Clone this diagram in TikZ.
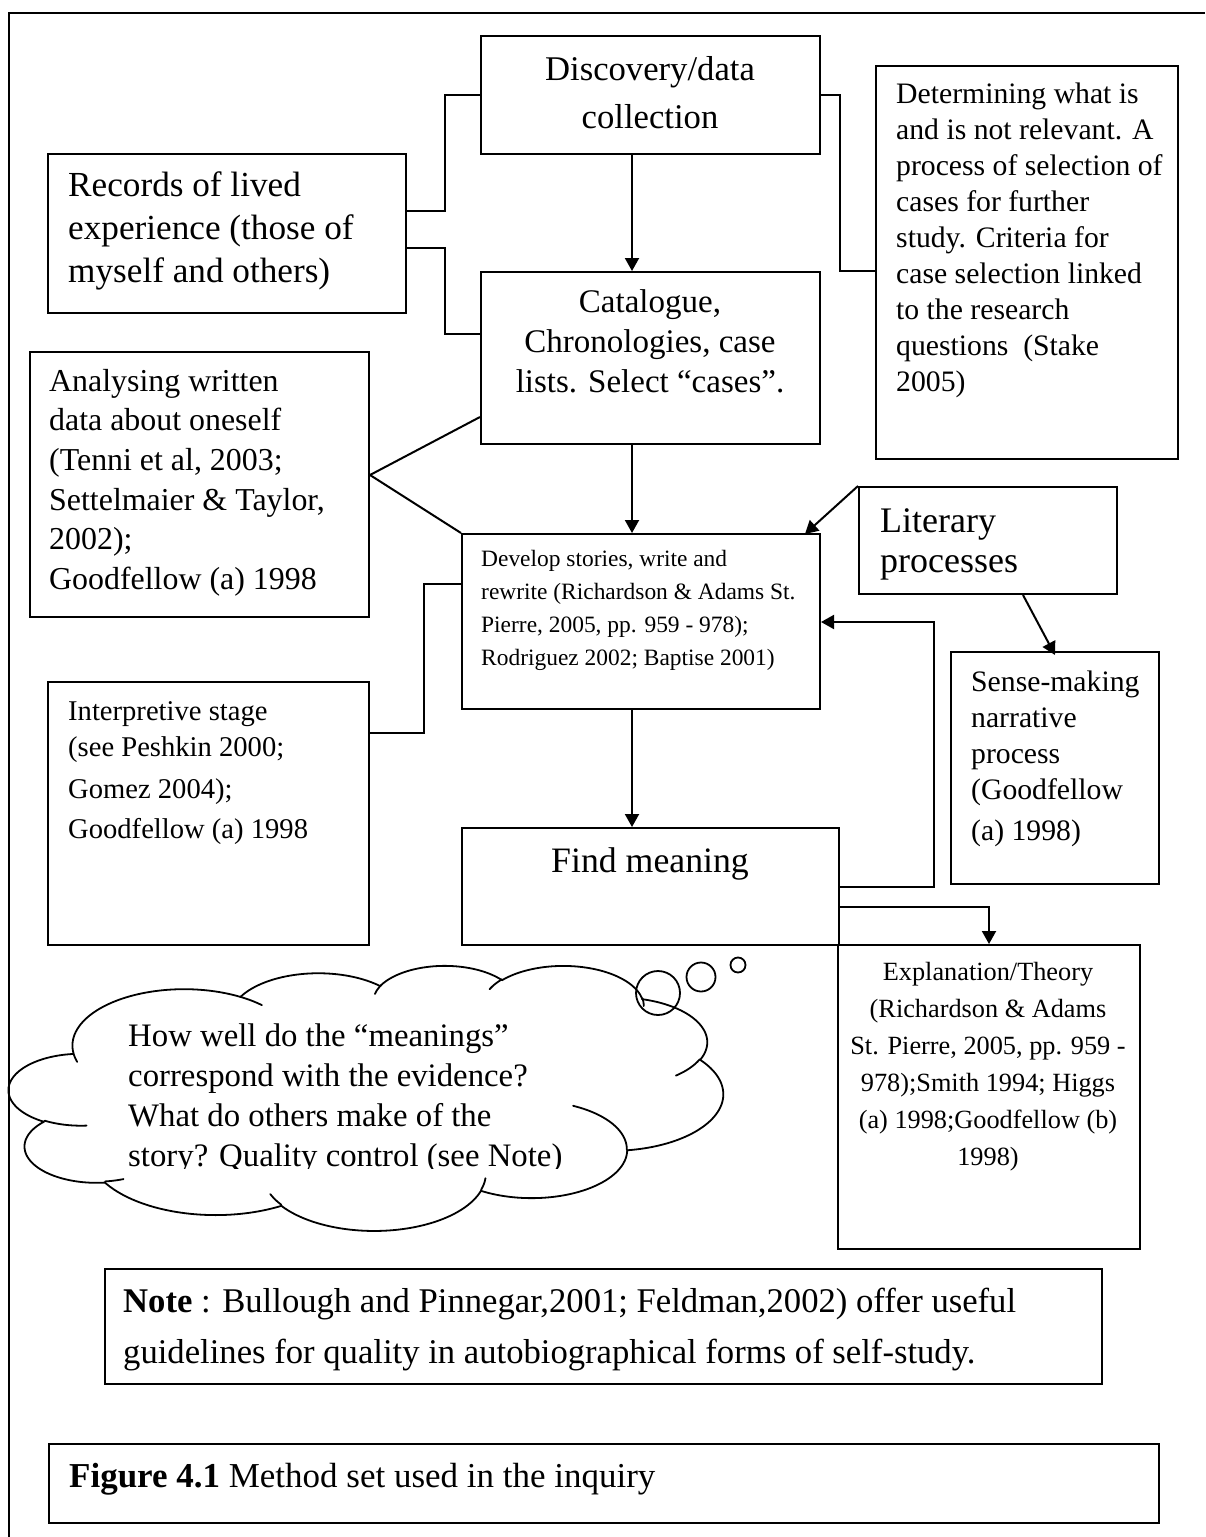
\documentclass[tikz,border=0pt]{standalone}
\usepackage{fontspec}
\setmainfont{Liberation Serif}
\usetikzlibrary{arrows.meta}

% font size (widened to the book face's measure) and baselineskip, in points
\newcommand\fsz[2]{\fontsize{\fpeval{1.1*#1}pt}{#2pt}\selectfont}

% rectangle node from its corners: name, left, top, right, bottom
\newcommand\boxnode[5]{%
  \node[box,minimum width={(#4-#2)*1pt},minimum height={(#5-#3)*1pt}] (#1) at (#2,#3) {};}

\makeatletter
% Office-style cloud outline: elliptical arcs given by their radii and by
% start and sweep angles taken in the visual sense, chained from the current point.
\newcommand\cldmove[2]{\def\cld@x{#1}\def\cld@y{#2}}
\newcommand\cldarc[4]{%
  \pgfmathsetmacro\cld@ta{atan2((#1)*sin(#3),(#2)*cos(#3))}%
  \pgfmathsetmacro\cld@e{(#3)+(#4)}%
  \pgfmathsetmacro\cld@tr{atan2((#1)*sin(\cld@e),(#2)*cos(\cld@e))}%
  \pgfmathsetmacro\cld@tb{\cld@tr+360*round((\cld@ta+(#4)-\cld@tr)/360)}%
  \pgfmathsetmacro\cld@cx{\cld@x-(#1)*cos(\cld@ta)}%
  \pgfmathsetmacro\cld@cy{\cld@y-(#2)*sin(\cld@ta)}%
  \draw[cloudline] plot[variable=\cldt,domain=\cld@ta:\cld@tb,samples=48,smooth]
    ({\cld@cx+(#1)*cos(\cldt)},{\cld@cy+(#2)*sin(\cldt)});
  \pgfmathsetmacro\cld@x{\cld@cx+(#1)*cos(\cld@tb)}%
  \pgfmathsetmacro\cld@y{\cld@cy+(#2)*sin(\cld@tb)}%
}
\makeatother

\begin{document}
\begin{tikzpicture}[x=1pt,y=-1pt,
  box/.style={draw,line width=2pt,inner sep=0pt,anchor=north west},
  txt/.style={inner sep=0pt,anchor=north west,align=left},
  ctxt/.style={inner sep=0pt,anchor=north,align=center},
  link/.style={line width=2pt},
  arr/.style={line width=2pt,-{Triangle[length=13pt,width=14pt]}},
  cloudline/.style={line width=1.8pt,line join=round,line cap=round},
]
\useasboundingbox[fill=white] (0,0) rectangle (1205,1537);

% page frame
\draw[line width=2pt] (1205,13) -- (9,13) -- (9,1537);

% boxes
\boxnode{disc}{480}{35}{819}{153}
\boxnode{rec}{47}{153}{405}{312}
\boxnode{det}{875}{65}{1177}{458}
\boxnode{cat}{480}{271}{819}{443}
\boxnode{ana}{29}{351}{368}{616}
\boxnode{dev}{461}{533}{819}{708}
\boxnode{lit}{858}{486}{1116}{593}
\boxnode{sense}{950}{651}{1158}{883}
\boxnode{interp}{47}{681}{368}{944}
\boxnode{find}{461}{827}{838}{944}
\boxnode{expl}{837}{944}{1139}{1248}
\boxnode{note}{104}{1268}{1101}{1383}
\boxnode{fig}{48}{1443}{1158}{1522}

% texts
\node[ctxt,font=\fsz{31.5}{48}] (disc-t) at (650,46.4) {\strut Discovery/data\\collection};
\node[txt,font=\fsz{32}{43}] (rec-t) at (68,165.9) {\strut Records of lived\\experience (those of\\myself and others)};
\node[txt,font=\fsz{27}{36}] (det-t) at (896,77.8) {\strut Determining what is\\and is not relevant. A\\process of selection of\\cases for further\\study. Criteria for\\case selection linked\\to the research\\questions~ (Stake\\2005)};
\node[ctxt,font=\fsz{30}{40}] (cat-t) at (650,284) {\strut Catalogue,\\Chronologies, case\\lists. Select ``cases''.};
\node[txt,font=\fsz{29}{39.6}] (ana-t) at (49,363.3) {\strut Analysing written\\data about oneself\\(Tenni et al, 2003;\\Settelmaier \& Taylor,\\2002);\\Goodfellow (a) 1998};
\node[txt,font=\fsz{21.3}{33}] (dev-t) at (481,542.9) {\strut Develop stories, write and\\rewrite (Richardson \& Adams St.\\Pierre, 2005, pp. 959 - 978);\\Rodriguez 2002; Baptise 2001)};
\node[txt,font=\fsz{32.7}{40}] (lit-t) at (880,504) {\strut Literary\\processes};
\node[txt,font=\fsz{27}{36}] (sense-t) at (971,665.8) {\strut Sense-making\\narrative\\process\\(Goodfellow\\[5pt](a) 1998)};
\node[txt,font=\fsz{26}{36}] (interp-t) at (68,694.8) {\strut Interpretive stage\\(see Peshkin 2000;\\[6pt]Gomez 2004);\\[4pt]Goodfellow (a) 1998};
\node[ctxt,font=\fsz{32.5}{40}] (find-t) at (650,844) {\strut Find meaning};
\node[ctxt,font=\fsz{23.9}{37}] (expl-t) at (988,954.1) {\strut Explanation/Theory\\(Richardson \& Adams\\St. Pierre, 2005, pp. 959 -\\978);Smith 1994; Higgs\\(a) 1998;Goodfellow (b)\\1998)};
\node[txt,font=\fsz{31.5}{51}] (note-t) at (123,1276.3) {\strut\textbf{Note} : Bullough and Pinnegar,2001; Feldman,2002) offer useful\\guidelines for quality in autobiographical forms of self-study.};
\node[txt,font=\fsz{31.8}{40}] (fig-t) at (69,1459) {\strut\textbf{Figure 4.1} Method set used in the inquiry};

% connectors
\draw[link] ([yshift=-58pt]rec.north east) -- ++(38,0) |- ([yshift=-60pt]disc.north west);
\draw[link] ([yshift=-95pt]rec.north east) -- ++(38,0) |- ([yshift=-63pt]cat.north west);
\draw[link] ([yshift=-60pt]disc.north east) -- ++(19,0) |- ([yshift=-206pt]det.north west);
\draw[arr] ([xshift=-18.5pt]disc.south) -- ([xshift=-18.5pt]cat.north);
\draw[arr] ([xshift=-18.5pt]cat.south) -- ([xshift=-9pt]dev.north);
\draw[link] ([yshift=-146pt]cat.north west) -- ([yshift=-124pt]ana.north east) -- (dev.north west);
\draw[link] ([yshift=-51pt]dev.north west) -- ++(-37,0) |- ([yshift=-52pt]interp.north east);
\draw[arr] (lit.north west) -- ([xshift=-16pt,yshift=-1pt]dev.north east);
\draw[arr] ([xshift=35pt]lit.south) -- ([yshift=-4pt]sense.north);
\draw[arr] ([xshift=-9pt]dev.south) -- ([xshift=-18.5pt]find.north);
\draw[arr] ([yshift=-60pt]find.north east) -- ++(94,0) |- ([yshift=-89pt]dev.north east);
\draw[arr] ([yshift=-80pt]find.north east) -| (expl.north);

% thought cloud with its three bubbles
\begin{scope}[shift={(9,965)},x=16.528pt,y=-6.134pt]
  \cldmove{3.900}{14.370}
  \cldarc{6.753}{9.190}{-190.4875}{123.7805}
  \cldarc{5.333}{7.267}{-144.1024}{89.9452}
  \cldarc{4.365}{5.945}{-145.8079}{99.7230}
  \cldarc{4.857}{6.595}{-130.9861}{117.2417}
  \cldarc{5.333}{7.273}{-78.7089}{109.0269}
  \cldarc{6.775}{9.220}{-46.2673}{130.2690}
  \cldarc{5.785}{7.867}{0.6250}{114.0333}
  \cldarc{6.752}{9.215}{22.4516}{115.1726}
  \cldarc{7.720}{10.543}{66.2426}{75.7110}
  \cldarc{4.360}{5.918}{-274.9421}{146.7356}
  \cldarc{4.345}{5.945}{-246.8285}{152.5189}
  % inner ends of the puffs
  \cldmove{4.693}{26.177}\cldarc{4.345}{5.945}{86.7420}{26.4295}
  \cldmove{6.928}{34.899}\cldarc{4.360}{5.918}{73.6105}{11.4475}
  \cldmove{16.478}{39.090}\cldarc{6.752}{9.215}{137.6242}{14.0811}
  \cldmove{28.827}{34.751}\cldarc{6.752}{9.215}{6.4533}{15.9984}
  \cldmove{34.129}{22.954}\cldarc{5.785}{7.867}{-70.2924}{70.9174}
  \cldmove{41.798}{15.354}\cldarc{5.333}{7.273}{30.3180}{27.7515}
  \cldmove{38.324}{5.426}\cldarc{4.857}{6.595}{-13.7443}{14.8589}
  \cldmove{29.078}{3.952}\cldarc{4.857}{6.595}{-149.1815}{18.1954}
  \cldmove{22.141}{4.720}\cldarc{4.365}{5.945}{-163.4943}{17.6864}
  \cldmove{14.000}{5.192}\cldarc{6.753}{9.190}{-66.7070}{12.3194}
  \cldmove{4.127}{15.789}\cldarc{6.753}{9.190}{157.6544}{11.8582}
\end{scope}
\node[circle,draw,line width=1.8pt,minimum size=44pt,inner sep=0pt] (bub-l) at (658,993) {};
\node[circle,draw,line width=1.8pt,minimum size=29pt,inner sep=0pt] (bub-m) at (701,977) {};
\node[circle,draw,line width=1.8pt,minimum size=15pt,inner sep=0pt] (bub-s) at (738,965) {};
\begin{scope}
  \clip (100,1000) rectangle (590,1168);
  \node[txt,font=\fsz{29.8}{40}] (cloud-t) at (128,1018) {\strut How well do the ``meanings''\\correspond with the evidence?\\What do others make of the\\story? Quality control (see Note)};
\end{scope}
\end{tikzpicture}
\end{document}
